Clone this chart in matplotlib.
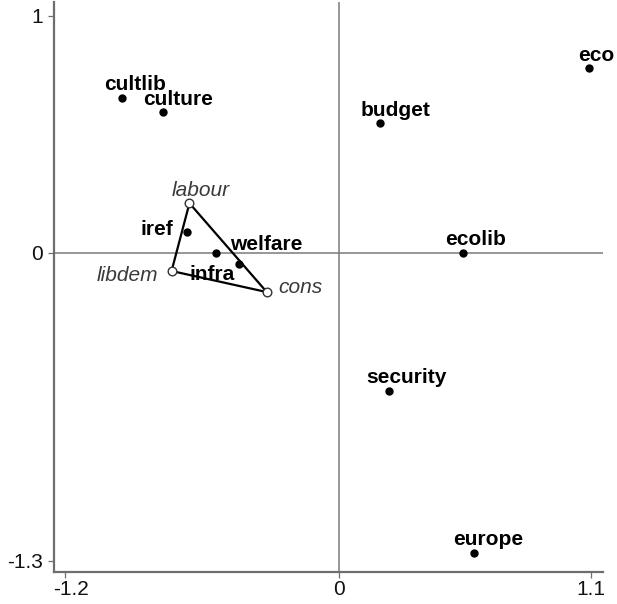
import matplotlib
matplotlib.use("Agg")
import matplotlib.pyplot as plt
import matplotlib.transforms as mtransforms

plt.rcParams['font.family'] = ['Liberation Sans', 'DejaVu Sans']
plt.rcParams['axes.unicode_minus'] = False

# Policy dimensions (filled dots)
dims = ["cultlib", "culture", "iref", "infra", "welfare", "eco", "budget", "ecolib", "security", "europe"]
dim_x = [-0.948, -0.772, -0.667, -0.540, -0.438, 1.092, 0.178, 0.539, 0.218, 0.590]
dim_y = [0.653, 0.592, 0.088, 0.000, -0.049, 0.777, 0.545, 0.000, -0.583, -1.267]

# Parties (open circles, joined as a triangle)
parties = ["labour", "libdem", "cons"]
party_x = [-0.655, -0.733, -0.317]
party_y = [0.208, -0.078, -0.167]

# Axis ticks
xticks = [-1.2, 0, 1.1]
xtick_labels = ["-1.2", "0", "1.1"]
yticks = [-1.3, 0, 1]
ytick_labels = ["-1.3", "0", "1"]

# label placement: (dx px, dy px, ha, va)
dim_label_pos = {
    "cultlib": (13, 7.5, "center", "baseline"),
    "culture": (15, 7.5, "center", "baseline"),
    "iref": (-13, -3, "right", "baseline"),
    "infra": (-4, -12, "center", "top"),
    "welfare": (27, 14, "center", "baseline"),
    "eco": (7, 7.5, "center", "baseline"),
    "budget": (15, 7.5, "center", "baseline"),
    "ecolib": (13, 7.5, "center", "baseline"),
    "security": (17, 7.5, "center", "baseline"),
    "europe": (14, 7.5, "center", "baseline"),
}
party_label_pos = {
    "labour": (11, 7, "center", "baseline"),
    "libdem": (-13, -10.5, "right", "baseline"),
    "cons": (12, -1, "left", "baseline"),
}

fig = plt.figure(figsize=(6.17, 6.04), dpi=100)
ax = fig.add_axes([53.5 / 617, 32.5 / 604, (603 - 53.5) / 617, (571.5 - 2) / 604])

ax.set_xlim(-1.249, 1.152)
ax.set_ylim(-1.346, 1.057)

gray = "#6e6e6e"
ax.axhline(0, color="#7a7a7a", lw=1.1, zorder=1)
ax.axvline(0, color="#7a7a7a", lw=1.1, zorder=1)

# triangle
tx = party_x + [party_x[0]]
ty = party_y + [party_y[0]]
ax.plot(tx, ty, color="black", lw=1.6, zorder=2)
ax.plot(party_x, party_y, linestyle="none", marker="o", markersize=6.2,
        markerfacecolor="white", markeredgecolor="#333333", markeredgewidth=1.0, zorder=3)

ax.plot(dim_x, dim_y, linestyle="none", marker="o", markersize=5,
        color="black", zorder=4)

fs = 15
for name, x, y in zip(dims, dim_x, dim_y):
    dx, dy, ha, va = dim_label_pos[name]
    ax.annotate(name, (x, y), xytext=(dx, dy), textcoords="offset pixels",
                ha=ha, va=va, fontsize=fs, fontweight="bold", color="black", zorder=5)

for name, x, y in zip(parties, party_x, party_y):
    dx, dy, ha, va = party_label_pos[name]
    ax.annotate(name, (x, y), xytext=(dx, dy), textcoords="offset pixels",
                ha=ha, va=va, fontsize=fs, fontstyle="italic", color="#3a3a3a", zorder=5)

for side in ["top", "right"]:
    ax.spines[side].set_visible(False)
for side in ["left", "bottom"]:
    ax.spines[side].set_color(gray)
    ax.spines[side].set_linewidth(1.6)

ax.set_xticks(xticks)
ax.set_xticklabels(xtick_labels)
ax.set_yticks(yticks)
ax.set_yticklabels(ytick_labels)
ax.tick_params(axis="both", direction="out", length=4.3, width=0.9, color=gray,
               labelsize=fs, labelcolor="#111111")
ax.tick_params(axis="x", pad=2)
ax.tick_params(axis="y", pad=3)

# shift "-1.2" a little to the right as in the reference
offset = mtransforms.ScaledTranslation(6 / 100, 0, fig.dpi_scale_trans)
lbl = ax.get_xticklabels()[0]
lbl.set_transform(lbl.get_transform() + offset)

fig.savefig("out.png", dpi=100)
